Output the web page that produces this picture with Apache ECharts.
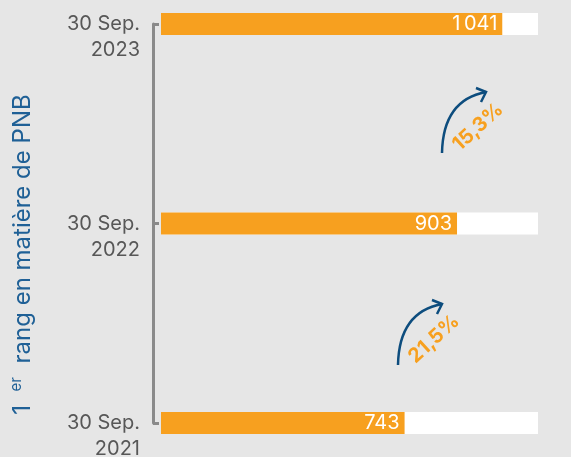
<!DOCTYPE html>
<html>
<head>
<meta charset="utf-8">
<script src="https://cdn.jsdelivr.net/npm/echarts@6/dist/echarts.min.js"></script>
<style>
  html, body { margin: 0; padding: 0; background: #e6e6e6; }
  #chart { width: 571px; height: 457px; }
</style>
</head>
<body>
<div id="chart"></div>
<script>
const categories = ["2021", "2022", "2023"];
const tickLabels = ["30 Sep.\n2021", "30 Sep.\n2022", "30 Sep.\n2023"];
const pnbValues = [743, 903, 1041];
const axisTitle = "1  {sup|er}  rang en matière de PNB";

const FONT = "Inter, 'Liberation Sans', sans-serif";
const ORANGE = "#f7a01f";
const BLUE = "#0d4d7e";

// growth between consecutive years, french format
const growth = pnbValues.slice(1).map((v, i) =>
  ((v / pnbValues[i] - 1) * 100).toFixed(1).replace(".", ",") + "%"
);

const fmtValue = (v) => (v >= 1000 ? Math.floor(v / 1000) + "\u2009" + String(v % 1000).padStart(3, "0") : String(v));

// arrow + rotated percentage annotation
const growthMark = (x, y, text) => ({
  type: "group",
  x: x,
  y: y,
  children: [
    {
      type: "bezierCurve",
      shape: { x1: 0, y1: 61, cpx1: 1, cpy1: 8, x2: 44, y2: 0 },
      style: { stroke: BLUE, lineWidth: 2.5, fill: null },
    },
    {
      type: "polyline",
      shape: { points: [[34, -4], [44, 0], [39, 10]] },
      style: { stroke: BLUE, lineWidth: 2.5, fill: null },
    },
    {
      type: "text",
      x: 36,
      y: 35,
      rotation: 0.74,
      style: {
        text: text,
        fill: ORANGE,
        font: "bold 20px " + FONT,
        align: "center",
        verticalAlign: "middle",
      },
    },
  ],
});

const chart = echarts.init(document.getElementById("chart"));

chart.setOption({
  backgroundColor: "#e6e6e6",
  animation: false,
  grid: { left: 161, right: 33, top: 24, bottom: 34, outerBoundsMode: "none", containLabel: false },
  xAxis: { type: "value", min: 0, max: 1150, show: false },
  yAxis: {
    type: "category",
    data: categories,
    boundaryGap: false,
    offset: 8,
    axisLine: { onZero: false, lineStyle: { color: "#8a8a8a", width: 3 } },
    axisTick: { show: true, inside: true, length: 6, lineStyle: { color: "#8a8a8a", width: 3 } },
    axisLabel: {
      margin: 13,
      fontFamily: FONT,
      fontSize: 20,
      lineHeight: 26,
      color: "#575757",
      align: "right",
      formatter: (v, i) => "\n" + tickLabels[i],
    },
    name: axisTitle,
    nameLocation: "middle",
    nameRotate: 90,
    nameGap: 117,
    nameTextStyle: {
      fontFamily: FONT,
      fontSize: 24,
      color: "#1f6096",
      padding: [0, 62, 0, 0],
      rich: {
        sup: { fontFamily: FONT, fontSize: 15, color: "#1f6096", verticalAlign: "top", padding: [0, 0, 12, 0] },
      },
    },
  },
  series: [
    {
      type: "bar",
      data: pnbValues,
      barWidth: 22,
      clip: false,
      itemStyle: { color: ORANGE },
      showBackground: true,
      backgroundStyle: { color: "#ffffff" },
      label: {
        show: true,
        position: "insideRight",
        distance: 5,
        color: "#ffffff",
        fontFamily: FONT,
        fontSize: 20,
        formatter: (p) => fmtValue(p.value),
      },
    },
  ],
  graphic: [growthMark(442, 92, growth[1]), growthMark(398, 304, growth[0])],
});
</script>
</body>
</html>
